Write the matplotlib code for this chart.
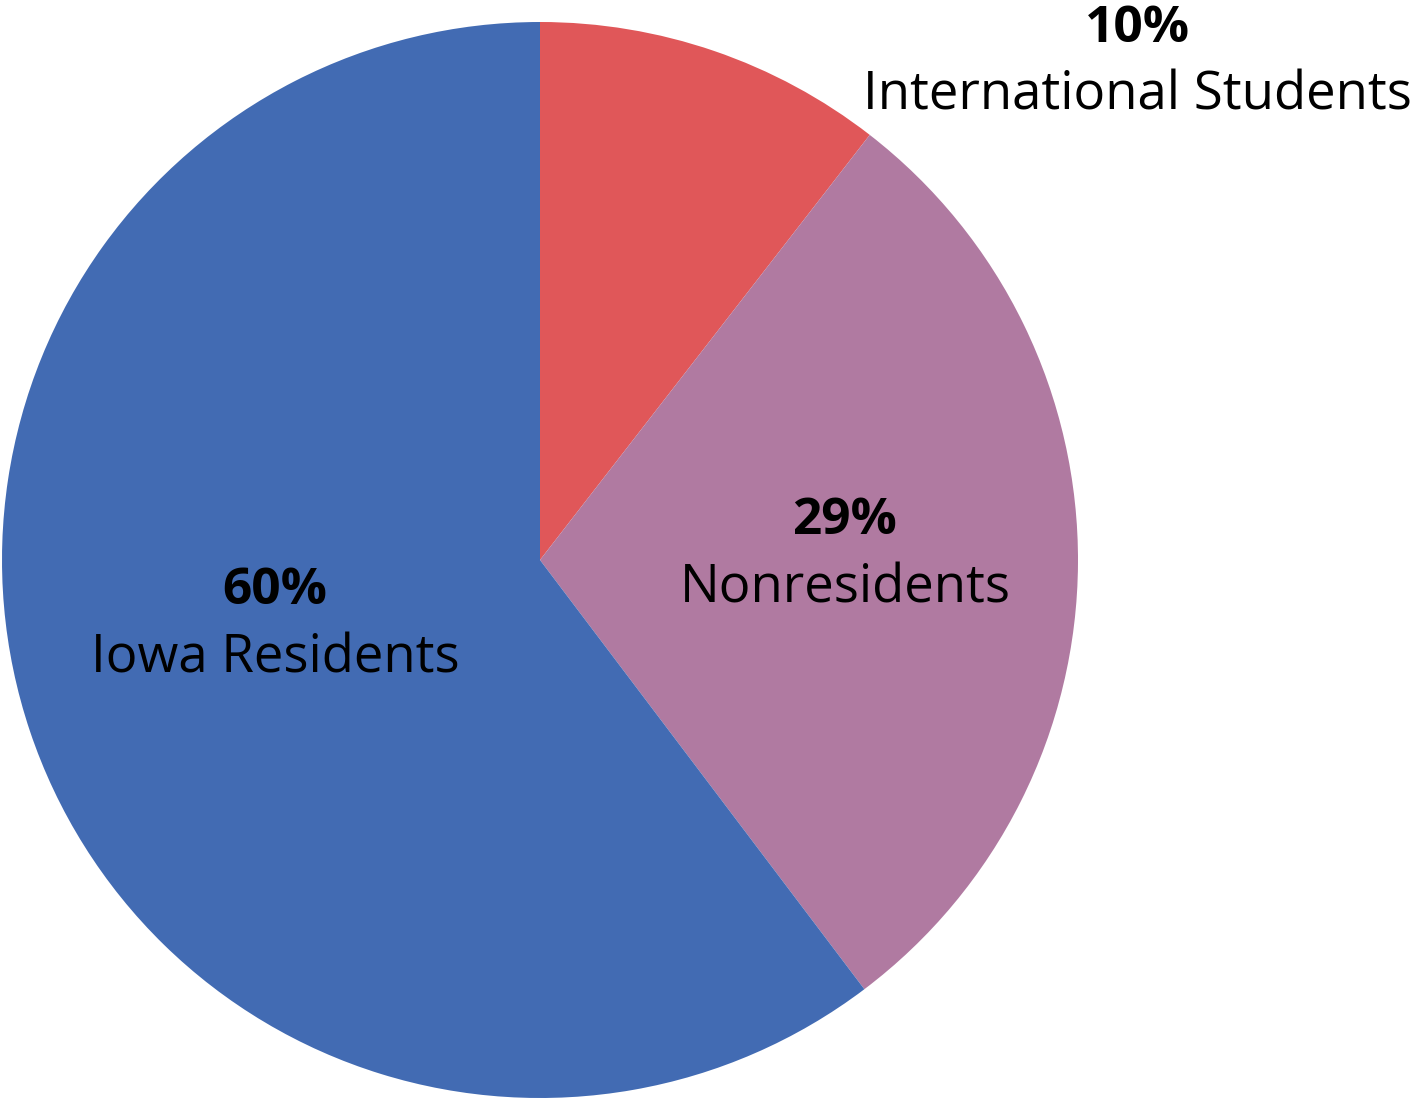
import matplotlib
matplotlib.use("Agg")
import matplotlib.pyplot as plt

categories = ["International Students", "Nonresidents", "Iowa Residents"]
shares = [10.5, 29.2, 60.3]
pct_labels = ["10%", "29%", "60%"]
colors = ["#E05759", "#B07AA1", "#426BB3"]

W, H = 1415, 1099
fig = plt.figure(figsize=(W / 100, H / 100), dpi=100)
ax = fig.add_axes([0, 0, 1, 1])

cx, cy, r = 540, H - 560, 538
ax.pie(shares, colors=colors, startangle=90, counterclock=False,
       center=(cx, cy), radius=r, frame=True,
       wedgeprops=dict(linewidth=0))
ax.set_xlim(0, W)
ax.set_ylim(0, H)
ax.set_aspect("equal")
ax.axis("off")

# label anchor positions (image px)
label_pos = [(1137, 29, 96), (845, 521, 589), (275, 591, 659)]
font = "Open Sans"
for cat, pct, (x, yp, yc) in zip(categories, pct_labels, label_pos):
    ax.text(x, H - yp, pct, ha="center", va="center", fontsize=37,
            fontweight="bold", family=font, color="#000000")
    ax.text(x, H - yc, cat, ha="center", va="center", fontsize=38,
            family=font, color="#000000")

fig.savefig("out.png", dpi=100)
